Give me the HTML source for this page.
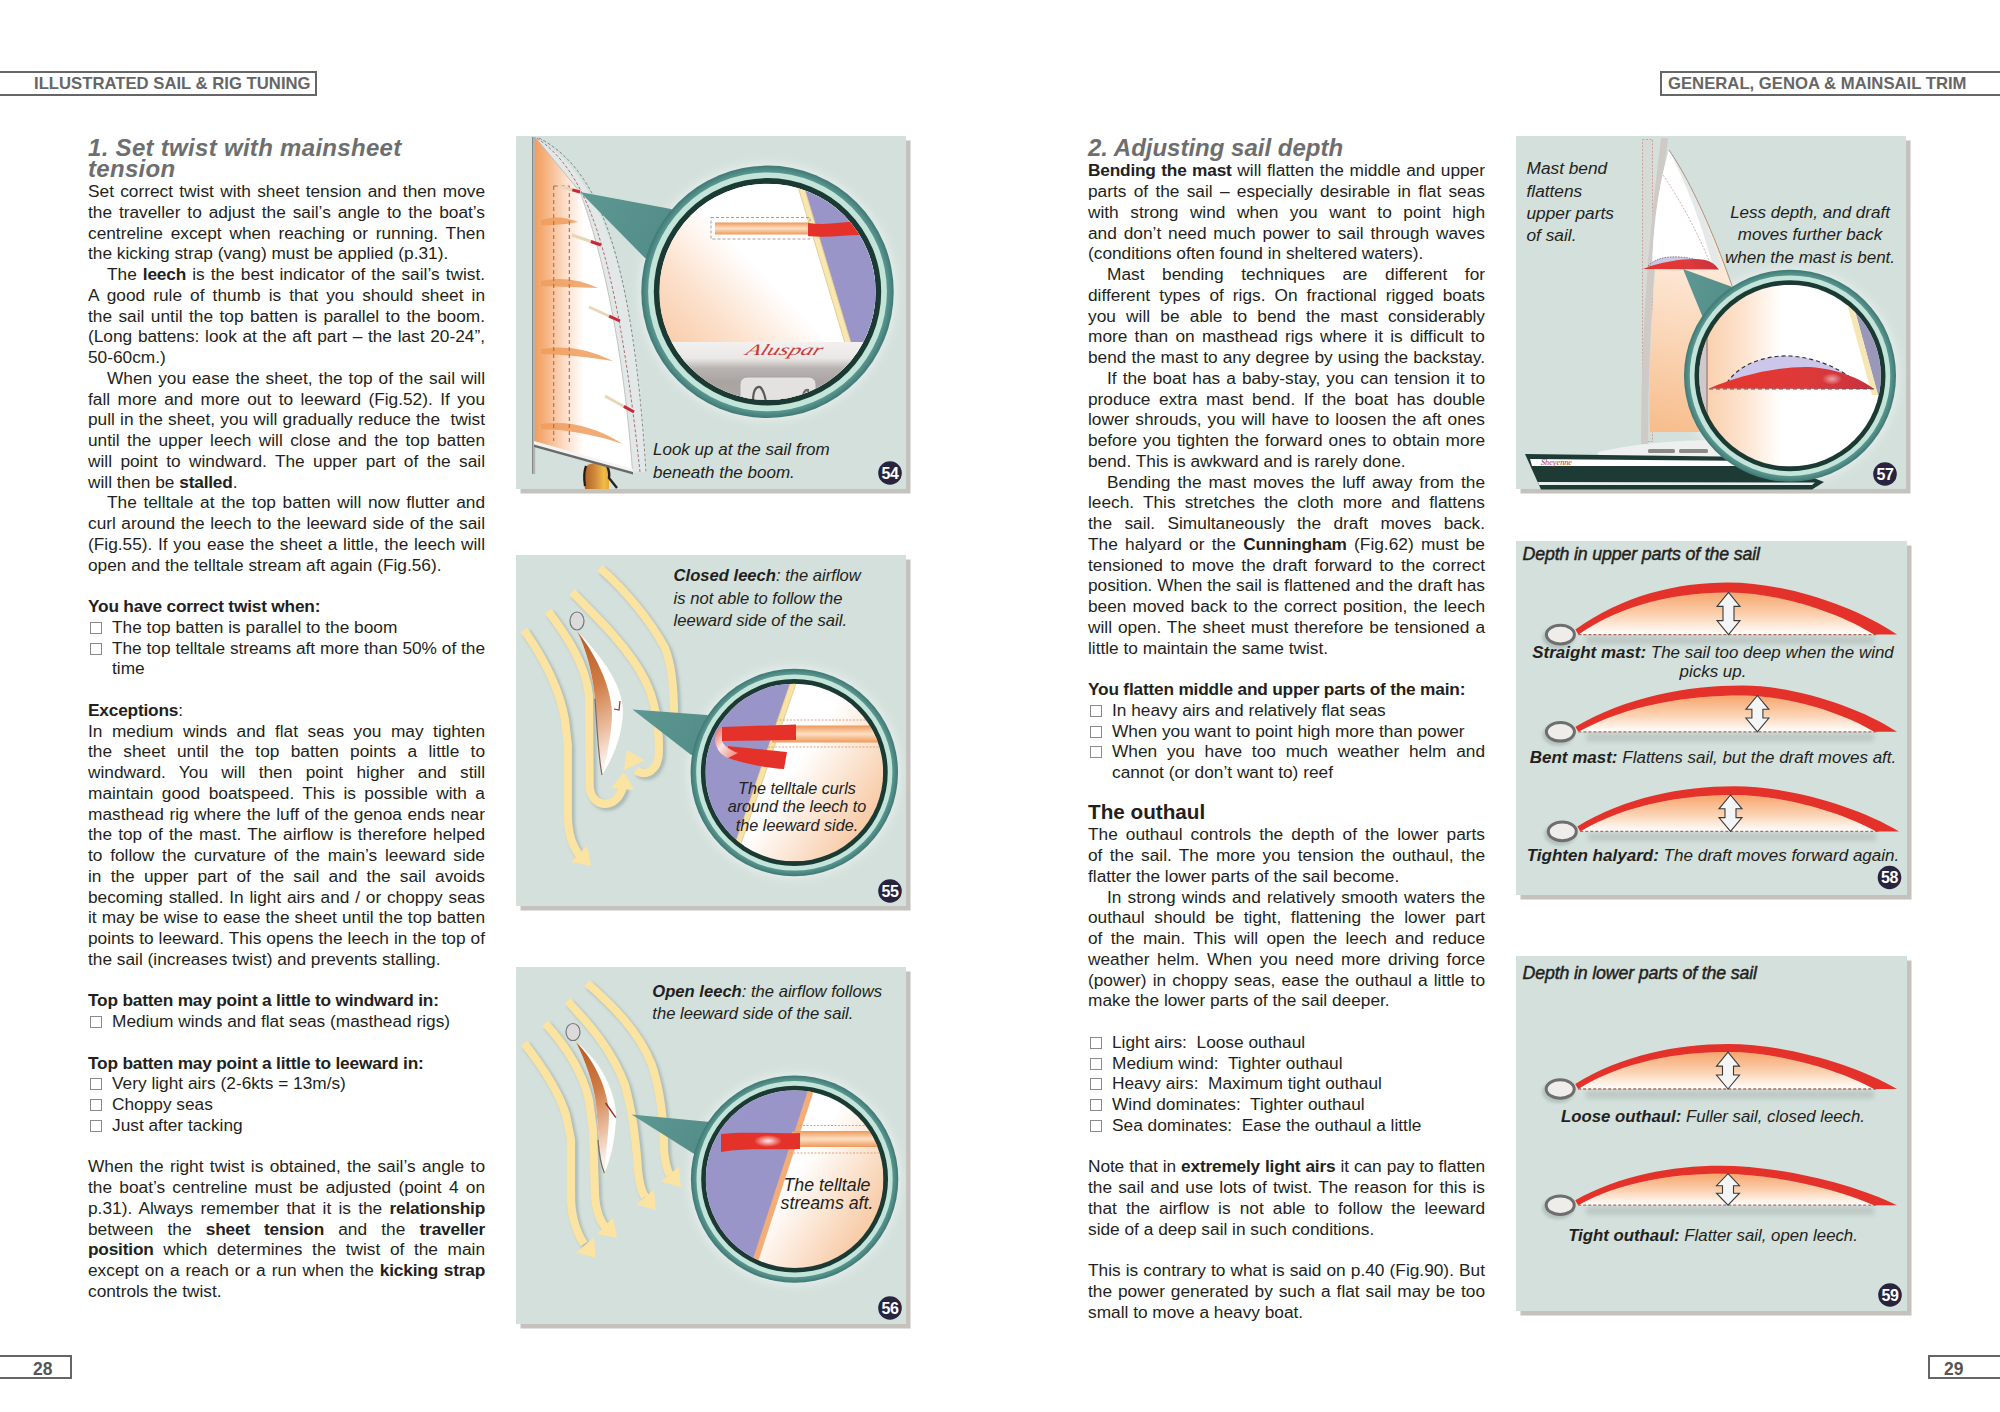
<!DOCTYPE html>
<html><head><meta charset="utf-8"><title>Illustrated Sail &amp; Rig Tuning 28-29</title>
<style>
*{margin:0;padding:0;box-sizing:border-box}
html,body{width:2000px;height:1412px;overflow:hidden;background:#fff}
body{position:relative;font-family:"Liberation Sans",sans-serif;color:#231f20}
.col{position:absolute;top:0;width:397px;height:1412px}
.ln{position:absolute;left:0;width:397px;height:20.75px;line-height:20.75px;font-size:17.3px;white-space:nowrap}
.ln b{font-weight:bold;letter-spacing:-0.2px}
.j{text-align:justify;text-align-last:justify}
.ind{padding-left:19px}
.ck{padding-left:24px}
.bx{position:absolute;left:1.5px;top:4.87px;width:12px;height:12px;border:1.3px solid #8a8a8a}
.h1{position:absolute;font:italic bold 24px/20.8px "Liberation Sans",sans-serif;color:#6d6e70;white-space:nowrap}
.h2{position:absolute;left:0;font:bold 20.7px/20.75px "Liberation Sans",sans-serif;color:#231f20;white-space:nowrap}
.hdr{position:absolute;border:2.4px solid #666;color:#666;font:bold 16.7px/20px "Liberation Sans",sans-serif;white-space:nowrap}
.pn{position:absolute;border:2.4px solid #666;color:#555;font:bold 17.5px/18px "Liberation Sans",sans-serif}
.figsvg{position:absolute;left:0;top:0}
.cap{position:absolute;font-style:italic;color:#231f20;white-space:nowrap}
.cap b{font-weight:bold}
</style></head><body>
<div class="hdr" style="left:-3px;top:70.5px;width:320px;height:25px;padding:1px 0 0 35px">ILLUSTRATED SAIL &amp; RIG TUNING</div>
<div class="hdr" style="left:1660px;top:70.5px;width:345px;height:25px;padding:1px 0 0 6px">GENERAL, GENOA &amp; MAINSAIL TRIM</div>
<div class="pn" style="left:-3px;top:1355px;width:75px;height:24px;padding:3px 0 0 34px">28</div>
<div class="pn" style="left:1928px;top:1355px;width:80px;height:24px;padding:3px 0 0 14px">29</div>
<div class="h1" style="left:88px;top:138px;letter-spacing:0.3px">1. Set twist with mainsheet<br>tension</div>
<div class="h1" style="left:1088px;top:138px">2. Adjusting sail depth</div>
<div class="col" style="left:88px"><div class="ln j" style="top:181.23px;">Set correct twist with sheet tension and then move</div>
<div class="ln j" style="top:201.98px;">the traveller to adjust the sail’s angle to the boat’s</div>
<div class="ln j" style="top:222.73px;">centreline except when reaching or running. Then</div>
<div class="ln" style="top:243.48px;">the kicking strap (vang) must be applied (p.31).</div>
<div class="ln j ind" style="top:264.23px;">The <b>leech</b> is the best indicator of the sail’s twist.</div>
<div class="ln j" style="top:284.98px;">A good rule of thumb is that you should sheet in</div>
<div class="ln j" style="top:305.73px;">the sail until the top batten is parallel to the boom.</div>
<div class="ln j" style="top:326.48px;">(Long battens: look at the aft part – the last 20-24”,</div>
<div class="ln" style="top:347.23px;">50-60cm.)</div>
<div class="ln j ind" style="top:367.98px;">When you ease the sheet, the top of the sail will</div>
<div class="ln j" style="top:388.73px;">fall more and more out to leeward (Fig.52). If you</div>
<div class="ln j" style="top:409.48px;">pull in the sheet, you will gradually reduce the&nbsp; twist</div>
<div class="ln j" style="top:430.23px;">until the upper leech will close and the top batten</div>
<div class="ln j" style="top:450.98px;">will point to windward. The upper part of the sail</div>
<div class="ln" style="top:471.73px;">will then be <b>stalled</b>.</div>
<div class="ln j ind" style="top:492.48px;">The telltale at the top batten will now flutter and</div>
<div class="ln j" style="top:513.23px;">curl around the leech to the leeward side of the sail</div>
<div class="ln j" style="top:533.98px;">(Fig.55). If you ease the sheet a little, the leech will</div>
<div class="ln" style="top:554.73px;">open and the telltale stream aft again (Fig.56).</div>
<div class="ln" style="top:596.23px;"><b>You have correct twist when:</b></div>
<div class="ln ck" style="top:616.98px;"><i class="bx"></i>The top batten is parallel to the boom</div>
<div class="ln ck j" style="top:637.73px;letter-spacing:-0.05px;"><i class="bx"></i>The top telltale streams aft more than 50% of the</div>
<div class="ln ck" style="top:658.48px;">time</div>
<div class="ln" style="top:699.98px;"><b>Exceptions</b>:</div>
<div class="ln j" style="top:720.73px;">In medium winds and flat seas you may tighten</div>
<div class="ln j" style="top:741.48px;">the sheet until the top batten points a little to</div>
<div class="ln j" style="top:762.23px;">windward. You will then point higher and still</div>
<div class="ln j" style="top:782.98px;">maintain good boatspeed. This is possible with a</div>
<div class="ln j" style="top:803.73px;">masthead rig where the luff of the genoa ends near</div>
<div class="ln j" style="top:824.48px;">the top of the mast. The airflow is therefore helped</div>
<div class="ln j" style="top:845.23px;">to follow the curvature of the main’s leeward side</div>
<div class="ln j" style="top:865.98px;">in the upper part of the sail and the sail avoids</div>
<div class="ln j" style="top:886.73px;">becoming stalled. In light airs and / or choppy seas</div>
<div class="ln j" style="top:907.48px;">it may be wise to ease the sheet until the top batten</div>
<div class="ln j" style="top:928.23px;">points to leeward. This opens the leech in the top of</div>
<div class="ln" style="top:948.98px;">the sail (increases twist) and prevents stalling.</div>
<div class="ln" style="top:990.48px;"><b>Top batten may point a little to windward in:</b></div>
<div class="ln ck" style="top:1011.23px;"><i class="bx"></i>Medium winds and flat seas (masthead rigs)</div>
<div class="ln" style="top:1052.73px;"><b>Top batten may point a little to leeward in:</b></div>
<div class="ln ck" style="top:1073.48px;"><i class="bx"></i>Very light airs (2-6kts = 13m/s)</div>
<div class="ln ck" style="top:1094.23px;"><i class="bx"></i>Choppy seas</div>
<div class="ln ck" style="top:1114.98px;"><i class="bx"></i>Just after tacking</div>
<div class="ln j" style="top:1156.48px;">When the right twist is obtained, the sail’s angle to</div>
<div class="ln j" style="top:1177.23px;">the boat’s centreline must be adjusted (point 4 on</div>
<div class="ln j" style="top:1197.98px;">p.31). Always remember that it is the <b>relationship</b></div>
<div class="ln j" style="top:1218.73px;">between the <b>sheet tension</b> and the <b>traveller</b></div>
<div class="ln j" style="top:1239.48px;"><b>position</b> which determines the twist of the main</div>
<div class="ln j" style="top:1260.23px;">except on a reach or a run when the <b>kicking strap</b></div>
<div class="ln" style="top:1280.98px;">controls the twist.</div></div>
<div class="col" style="left:1088px"><div class="ln j" style="top:160.48px;"><b>Bending the mast</b> will flatten the middle and upper</div>
<div class="ln j" style="top:181.23px;">parts of the sail – especially desirable in flat seas</div>
<div class="ln j" style="top:201.98px;">with strong wind when you want to point high</div>
<div class="ln j" style="top:222.73px;">and don’t need much power to sail through waves</div>
<div class="ln" style="top:243.48px;">(conditions often found in sheltered waters).</div>
<div class="ln j ind" style="top:264.23px;">Mast bending techniques are different for</div>
<div class="ln j" style="top:284.98px;">different types of rigs. On fractional rigged boats</div>
<div class="ln j" style="top:305.73px;">you will be able to bend the mast considerably</div>
<div class="ln j" style="top:326.48px;">more than on masthead rigs where it is difficult to</div>
<div class="ln j" style="top:347.23px;">bend the mast to any degree by using the backstay.</div>
<div class="ln j ind" style="top:367.98px;">If the boat has a baby-stay, you can tension it to</div>
<div class="ln j" style="top:388.73px;">produce extra mast bend. If the boat has double</div>
<div class="ln j" style="top:409.48px;">lower shrouds, you will have to loosen the aft ones</div>
<div class="ln j" style="top:430.23px;">before you tighten the forward ones to obtain more</div>
<div class="ln" style="top:450.98px;">bend. This is awkward and is rarely done.</div>
<div class="ln j ind" style="top:471.73px;">Bending the mast moves the luff away from the</div>
<div class="ln j" style="top:492.48px;">leech. This stretches the cloth more and flattens</div>
<div class="ln j" style="top:513.23px;">the sail. Simultaneously the draft moves back.</div>
<div class="ln j" style="top:533.98px;">The halyard or the <b>Cunningham</b> (Fig.62) must be</div>
<div class="ln j" style="top:554.73px;">tensioned to move the draft forward to the correct</div>
<div class="ln j" style="top:575.48px;">position. When the sail is flattened and the draft has</div>
<div class="ln j" style="top:596.23px;">been moved back to the correct position, the leech</div>
<div class="ln j" style="top:616.98px;">will open. The sheet must therefore be tensioned a</div>
<div class="ln" style="top:637.73px;">little to maintain the same twist.</div>
<div class="ln" style="top:679.23px;"><b>You flatten middle and upper parts of the main:</b></div>
<div class="ln ck" style="top:699.98px;"><i class="bx"></i>In heavy airs and relatively flat seas</div>
<div class="ln ck" style="top:720.73px;"><i class="bx"></i>When you want to point high more than power</div>
<div class="ln ck j" style="top:741.48px;"><i class="bx"></i>When you have too much weather helm and</div>
<div class="ln ck" style="top:762.23px;">cannot (or don’t want to) reef</div>
<div class="h2" style="top:802.23px">The outhaul</div>
<div class="ln j" style="top:824.48px;">The outhaul controls the depth of the lower parts</div>
<div class="ln j" style="top:845.23px;">of the sail. The more you tension the outhaul, the</div>
<div class="ln" style="top:865.98px;">flatter the lower parts of the sail become.</div>
<div class="ln j ind" style="top:886.73px;">In strong winds and relatively smooth waters the</div>
<div class="ln j" style="top:907.48px;">outhaul should be tight, flattening the lower part</div>
<div class="ln j" style="top:928.23px;">of the main. This will open the leech and reduce</div>
<div class="ln j" style="top:948.98px;">weather helm. When you need more driving force</div>
<div class="ln j" style="top:969.73px;">(power) in choppy seas, ease the outhaul a little to</div>
<div class="ln" style="top:990.48px;">make the lower parts of the sail deeper.</div>
<div class="ln ck" style="top:1031.98px;"><i class="bx"></i>Light airs:&nbsp; Loose outhaul</div>
<div class="ln ck" style="top:1052.73px;"><i class="bx"></i>Medium wind:&nbsp; Tighter outhaul</div>
<div class="ln ck" style="top:1073.48px;"><i class="bx"></i>Heavy airs:&nbsp; Maximum tight outhaul</div>
<div class="ln ck" style="top:1094.23px;"><i class="bx"></i>Wind dominates:&nbsp; Tighter outhaul</div>
<div class="ln ck" style="top:1114.98px;"><i class="bx"></i>Sea dominates:&nbsp; Ease the outhaul a little</div>
<div class="ln j" style="top:1156.48px;letter-spacing:-0.1px;">Note that in <b>extremely light airs</b> it can pay to flatten</div>
<div class="ln j" style="top:1177.23px;">the sail and use lots of twist. The reason for this is</div>
<div class="ln j" style="top:1197.98px;">that the airflow is not able to follow the leeward</div>
<div class="ln" style="top:1218.73px;">side of a deep sail in such conditions.</div>
<div class="ln j" style="top:1260.23px;">This is contrary to what is said on p.40 (Fig.90). But</div>
<div class="ln j" style="top:1280.98px;">the power generated by such a flat sail may be too</div>
<div class="ln" style="top:1301.73px;">small to move a heavy boat.</div></div>
<svg class="figsvg" width="2000" height="1412" viewBox="0 0 2000 1412"><defs>
<filter id="blur2" x="-20%" y="-20%" width="140%" height="140%"><feGaussianBlur stdDeviation="1.6"/></filter>
<filter id="blur3" x="-20%" y="-50%" width="140%" height="200%"><feGaussianBlur stdDeviation="2.5"/></filter>
<filter id="blur4" x="-20%" y="-20%" width="140%" height="140%"><feGaussianBlur stdDeviation="4"/></filter>
<radialGradient id="tealg" cx="0.5" cy="0.5" r="0.5"><stop offset="0.93" stop-color="#64a19b"/><stop offset="0.96" stop-color="#548f8a"/><stop offset="1" stop-color="#3f7975"/></radialGradient>
<linearGradient id="coneg" x1="0" y1="0" x2="1" y2="0.3"><stop offset="0" stop-color="#5e9893"/><stop offset="1" stop-color="#4a837f"/></linearGradient>
<linearGradient id="sail54" x1="535" y1="0" x2="600" y2="0" gradientUnits="userSpaceOnUse"><stop offset="0" stop-color="#f29e5e"/><stop offset="0.2" stop-color="#f6b787"/><stop offset="0.45" stop-color="#fcdcc6"/><stop offset="0.75" stop-color="#ffffff"/></linearGradient>
<linearGradient id="peachL" x1="0" y1="0" x2="1" y2="0"><stop offset="0" stop-color="#f9cca8"/><stop offset="0.25" stop-color="#fde4d0"/><stop offset="0.45" stop-color="#ffffff"/><stop offset="1" stop-color="#ffffff"/></linearGradient>
<linearGradient id="peach54" x1="0" y1="0.85" x2="0.62" y2="0.25"><stop offset="0" stop-color="#f8c59e"/><stop offset="0.4" stop-color="#fce0ca"/><stop offset="0.75" stop-color="#ffffff"/></linearGradient>
<linearGradient id="peachR" x1="0.1" y1="0" x2="1" y2="0.6"><stop offset="0" stop-color="#ffffff"/><stop offset="0.55" stop-color="#ffffff"/><stop offset="1" stop-color="#f8cdaa"/></linearGradient>
<linearGradient id="batten" x1="0" y1="0" x2="0" y2="1"><stop offset="0" stop-color="#ee9858"/><stop offset="0.5" stop-color="#fde0c4"/><stop offset="1" stop-color="#ee9858"/></linearGradient>
<linearGradient id="boomg" x1="0" y1="0" x2="0" y2="1"><stop offset="0" stop-color="#f2f1ef"/><stop offset="0.2" stop-color="#ebe9e7"/><stop offset="0.33" stop-color="#b9b3b1"/><stop offset="0.5" stop-color="#a9a3a1"/><stop offset="1" stop-color="#b3adab"/></linearGradient>
<linearGradient id="sailbrown" x1="0" y1="0" x2="0.15" y2="1"><stop offset="0" stop-color="#b65a22"/><stop offset="0.45" stop-color="#cf7c45"/><stop offset="0.8" stop-color="#ecc2a6"/><stop offset="1" stop-color="#fbefe8"/></linearGradient>
<linearGradient id="sail57" x1="1700" y1="270" x2="1660" y2="432" gradientUnits="userSpaceOnUse"><stop offset="0" stop-color="#fde8d6"/><stop offset="0.5" stop-color="#fad3b2"/><stop offset="1" stop-color="#f7bd8c"/></linearGradient>
<linearGradient id="redg" x1="0" y1="0" x2="1" y2="0"><stop offset="0" stop-color="#e8342c"/><stop offset="0.6" stop-color="#dd3a3a"/><stop offset="1" stop-color="#c83040"/></linearGradient>
<linearGradient id="twist" x1="0" y1="0" x2="1" y2="1"><stop offset="0" stop-color="#f05a4a"/><stop offset="0.45" stop-color="#fbe4e0"/><stop offset="1" stop-color="#f07a70"/></linearGradient>
<radialGradient id="gloss" cx="0.5" cy="0.5" r="0.5"><stop offset="0" stop-color="#ffffff" stop-opacity="0.9"/><stop offset="1" stop-color="#ffffff" stop-opacity="0"/></radialGradient>
</defs><rect x="520.5" y="140.5" width="390" height="353" fill="#c5c2bd"/><rect x="516" y="136" width="390" height="353" fill="#d3e0db"/><path d="M535,138 C590,165 635,250 647,472 L632,473 C622,330 598,240 580,192 Z" fill="#e3e9e9" opacity="0.85"/><path d="M535,137 L580,192 C598,240 622,330 632.5,471 L535,443 Z" fill="url(#sail54)"/><path d="M535,137 L580,192 C598,240 622,330 632.5,471" fill="none" stroke="#b9b6b2" stroke-width="0.8"/><path d="M541,220 Q559.5,214 578,222 Q559.5,226 541,225 Z" fill="#ef9c5c" opacity="0.85"/><path d="M541,281 Q569.5,275 598,288 Q569.5,287 541,286 Z" fill="#ef9c5c" opacity="0.85"/><path d="M541,349 Q577.0,343 613,361 Q577.0,355 541,354 Z" fill="#ef9c5c" opacity="0.85"/><path d="M541,424 Q582.0,418 623,444 Q582.0,430 541,429 Z" fill="#ef9c5c" opacity="0.85"/><path d="M553.7,186 V441 M569.3,186 V444 M553.7,186 H569.3" stroke="#b8674a" stroke-width="1.1" stroke-dasharray="4 3" fill="none"/><path d="M537,138 C585,172 615,240 640,472" stroke="#b07070" stroke-width="1" stroke-dasharray="3 2" fill="none"/><path d="M539,138 C597,168 632,250 646,472" stroke="#8a8a8a" stroke-width="1" stroke-dasharray="3 2" fill="none"/><line x1="558" y1="186" x2="580" y2="192" stroke="#e8d6b8" stroke-width="3"/><line x1="572.3" y1="189.9" x2="580" y2="192" stroke="#c8283a" stroke-width="3"/><line x1="572" y1="235" x2="601" y2="245" stroke="#e8d6b8" stroke-width="3"/><line x1="590.9" y1="241.5" x2="601" y2="245" stroke="#c8283a" stroke-width="3"/><line x1="589" y1="307" x2="620" y2="321" stroke="#e8d6b8" stroke-width="3"/><line x1="609.1" y1="316.1" x2="620" y2="321" stroke="#c8283a" stroke-width="3"/><line x1="605" y1="396" x2="634" y2="412" stroke="#e8d6b8" stroke-width="3"/><line x1="623.9" y1="406.4" x2="634" y2="412" stroke="#c8283a" stroke-width="3"/><defs><linearGradient id="headg" x1="0" y1="0" x2="1" y2="0"><stop offset="0" stop-color="#a8602a"/><stop offset="0.45" stop-color="#d08a3a"/><stop offset="0.8" stop-color="#f2bb48"/><stop offset="1" stop-color="#e8a838"/></linearGradient></defs><path d="M584,470 Q586,463 597,463 Q608,464 609,474 L609,489 L585,489 Q583,480 584,470 Z" fill="url(#headg)"/><path d="M586,466 Q583,474 585,486" stroke="#2a1a10" stroke-width="2.2" fill="none"/><path d="M607,466 Q610,472 609,478 L617,488" stroke="#2a2218" stroke-width="2.4" fill="none"/><rect x="532" y="137" width="3.2" height="337" fill="#b4b2b0"/><rect x="532" y="137" width="1" height="337" fill="#888"/><path d="M534,441 L633,469 L633,473.5 L534,446 Z" fill="#f4f4f2"/><path d="M534,444.5 L633,472 L633,474.5 L534,447 Z" fill="#6a6a6a"/><circle cx="767.5" cy="291.8" r="130.2" fill="#ffffff" opacity="0.35" filter="url(#blur4)"/><polygon points="580,192 671,209 767.5,291.8 645,258" fill="url(#coneg)"/><defs><clipPath id="c54"><circle cx="767.5" cy="291.8" r="108.1534"/></clipPath></defs><circle cx="767.5" cy="291.8" r="126.2" fill="url(#tealg)"/><circle cx="767.5" cy="291.8" r="119.3852" fill="#c3e5d9"/><circle cx="767.5" cy="291.8" r="113.70620000000001" fill="#1c3a34"/><g clip-path="url(#c54)"><rect x="659.3466" y="183.6466" width="216.3068" height="216.3068" fill="#fff"/><rect x="659.3466" y="183.6466" width="216.3068" height="216.3068" fill="url(#peach54)"/><polygon points="799,170 900,170 900,343 851,343" fill="#9a95c8"/><polygon points="793,170 799,170 851,343 845,343" fill="#f8e8b0" stroke="#d9c48a" stroke-width="0.8"/><rect x="711" y="217.5" width="99" height="21.5" fill="none" stroke="#a09090" stroke-width="0.9" stroke-dasharray="3 2"/><rect x="715" y="222.5" width="94" height="12" fill="url(#batten)"/><path d="M808,223 C828,226 845,221 862,222 L862,235 C845,235 828,238 808,236 Z" fill="#e4322b"/><rect x="659.3466" y="342" width="216.3068" height="80" fill="url(#boomg)"/><rect x="740" y="377" width="76" height="50" rx="7" fill="#e4e2e0" stroke="#a8a2a0"/><path d="M753,402 Q753,386 760,387 Q764,390 766,402" stroke="#5a5a5a" stroke-width="2.2" fill="none"/><path d="M802,402 Q803,389 808,390 L810,402" stroke="#6a6a6a" stroke-width="2.2" fill="none"/><text x="745" y="355.5" font-family="Liberation Serif" font-style="italic" font-size="16" fill="#d03838" textLength="76" lengthAdjust="spacingAndGlyphs" transform="skewX(-22) translate(143.4,0)">Aluspar</text></g><circle cx="890" cy="473" r="11.8" fill="#28243f"/><text x="890" y="478.8" text-anchor="middle" font-family="Liberation Sans" font-weight="bold" font-size="16" fill="#fff" letter-spacing="-0.5">54</text><rect x="520.5" y="559.5" width="390" height="351" fill="#c5c2bd"/><rect x="516" y="555" width="390" height="351" fill="#d3e0db"/><path d="M524,630 C545,660 560,690 565,720 L567.8,745 L567.8,815 C568,835 573,848 581,857" fill="none" stroke="#6f7f80" stroke-opacity="0.38" stroke-width="9" stroke-linecap="butt" filter="url(#blur2)" transform="translate(2.5,2.5)"/><path d="M524,630 C545,660 560,690 565,720 L567.8,745 L567.8,815 C568,835 573,848 581,857" fill="none" stroke="#fbe3a1" stroke-width="8.2" stroke-linecap="butt"/><polygon points="591.0,866.0 570.8,862.1 587.1,845.8" fill="#fbe3a1"/><path d="M548,611 C570,640 585,665 589,695 L589.6,785 C590,800 600,806 610,803 C618,800 622,792 623,786" fill="none" stroke="#6f7f80" stroke-opacity="0.38" stroke-width="9" stroke-linecap="butt" filter="url(#blur2)" transform="translate(2.5,2.5)"/><path d="M548,611 C570,640 585,665 589,695 L589.6,785 C590,800 600,806 610,803 C618,800 622,792 623,786" fill="none" stroke="#fbe3a1" stroke-width="8.2" stroke-linecap="butt"/><polygon points="624.0,772.0 634.0,789.9 611.1,787.9" fill="#fbe3a1"/><path d="M572,592 C600,620 630,650 645,680 C655,700 659,722 659,750 C659,770 646,778 636,770" fill="none" stroke="#6f7f80" stroke-opacity="0.38" stroke-width="9" stroke-linecap="butt" filter="url(#blur2)" transform="translate(2.5,2.5)"/><path d="M572,592 C600,620 630,650 645,680 C655,700 659,722 659,750 C659,770 646,778 636,770" fill="none" stroke="#fbe3a1" stroke-width="8.2" stroke-linecap="butt"/><polygon points="627.0,750.0 644.6,760.5 623.8,770.3" fill="#fbe3a1"/><path d="M600,568 C625,590 650,620 665,648 C672,665 674,690 674,716" fill="none" stroke="#6f7f80" stroke-opacity="0.38" stroke-width="9" stroke-linecap="butt" filter="url(#blur2)" transform="translate(2.5,2.5)"/><path d="M600,568 C625,590 650,620 665,648 C672,665 674,690 674,716" fill="none" stroke="#fbe3a1" stroke-width="8.2" stroke-linecap="butt"/><path d="M577,631 C586,648 593,675 595,699 C597,725 598,755 602,775 C612,760 622,738 623,712 C623,690 610,665 577,631 Z" fill="#ffffff"/><path d="M577,631 C586,648 593,675 595,699 C597,725 598,755 602,775 C606,760 612,735 612,712 C611,690 600,660 577,631 Z" fill="url(#sailbrown)"/><path d="M595,699 C597,725 598,755 602,775" fill="none" stroke="#7a6a60" stroke-width="1.2"/><ellipse cx="577" cy="621" rx="7" ry="9" fill="#dcdada" stroke="#777" stroke-width="1.2"/><path d="M620,701 L619,710 L614,709" stroke="#b02a2a" stroke-width="1.2" fill="none"/><circle cx="794.3" cy="772.5" r="107.7" fill="#ffffff" opacity="0.35" filter="url(#blur4)"/><polygon points="632.5,709.6 706.8,715 794.3,772.5 690.9,754.8" fill="url(#coneg)"/><defs><clipPath id="c55"><circle cx="794.3" cy="772.5" r="88.8709"/></clipPath></defs><circle cx="794.3" cy="772.5" r="103.7" fill="url(#tealg)"/><circle cx="794.3" cy="772.5" r="98.1002" fill="#c3e5d9"/><circle cx="794.3" cy="772.5" r="93.4337" fill="#1c3a34"/><g clip-path="url(#c55)"><rect x="705.4291" y="683.6291" width="177.7418" height="177.7418" fill="url(#peachR)"/><polygon points="705.4291,683.6291 790,683.6291 729,861.3709 705.4291,861.3709" fill="#9a95c8"/><polygon points="790,683.6291 796,683.6291 735,861.3709 729,861.3709" fill="#f8e3a4" stroke="#d8c088" stroke-width="0.7"/><line x1="776" y1="720" x2="890" y2="720" stroke="#e0a080" stroke-width="1" stroke-dasharray="2 1.5"/><line x1="768" y1="747" x2="890" y2="747" stroke="#e0a080" stroke-width="1" stroke-dasharray="2 1.5"/><rect x="772" y="725.5" width="120" height="17" fill="url(#batten)"/><path d="M728,746 C745,748 770,750 787,752 L784,769 C765,768 742,763 728,758 Z" fill="#e4322b"/><path d="M722,727 C711,731 713,752 728,758 L738,753 C727,749 723,744 722,741 Z" fill="url(#twist)"/><path d="M722,727 L796,724.5 L796,740 L722,741 Z" fill="#e4322b"/></g><circle cx="890" cy="891" r="11.8" fill="#28243f"/><text x="890" y="896.8" text-anchor="middle" font-family="Liberation Sans" font-weight="bold" font-size="16" fill="#fff" letter-spacing="-0.5">55</text><rect x="520.5" y="971.5" width="390" height="357" fill="#c5c2bd"/><rect x="516" y="967" width="390" height="357" fill="#d3e0db"/><path d="M524,1043 C545,1070 560,1095 566,1115 L571,1140 L571,1196 C571,1215 575,1230 584,1244" fill="none" stroke="#6f7f80" stroke-opacity="0.38" stroke-width="9" stroke-linecap="butt" filter="url(#blur2)" transform="translate(2.5,2.5)"/><path d="M524,1043 C545,1070 560,1095 566,1115 L571,1140 L571,1196 C571,1215 575,1230 584,1244" fill="none" stroke="#fbe3a1" stroke-width="8.2" stroke-linecap="butt"/><polygon points="596.0,1258.0 576.3,1252.4 593.9,1237.6" fill="#fbe3a1"/><path d="M545,1023 C565,1045 582,1070 589,1100 L593,1130 L595,1196 C596,1212 600,1222 607,1229" fill="none" stroke="#6f7f80" stroke-opacity="0.38" stroke-width="9" stroke-linecap="butt" filter="url(#blur2)" transform="translate(2.5,2.5)"/><path d="M545,1023 C565,1045 582,1070 589,1100 L593,1130 L595,1196 C596,1212 600,1222 607,1229" fill="none" stroke="#fbe3a1" stroke-width="8.2" stroke-linecap="butt"/><polygon points="617.0,1238.0 596.8,1234.1 613.1,1217.8" fill="#fbe3a1"/><path d="M567.5,1001 C590,1025 612,1050 625,1085 C632,1110 636,1140 638,1170 C639,1182 641,1190 645,1197" fill="none" stroke="#6f7f80" stroke-opacity="0.38" stroke-width="9" stroke-linecap="butt" filter="url(#blur2)" transform="translate(2.5,2.5)"/><path d="M567.5,1001 C590,1025 612,1050 625,1085 C632,1110 636,1140 638,1170 C639,1182 641,1190 645,1197" fill="none" stroke="#fbe3a1" stroke-width="8.2" stroke-linecap="butt"/><polygon points="656.0,1210.0 636.3,1204.4 653.9,1189.6" fill="#fbe3a1"/><path d="M587,983 C612,1005 638,1030 652,1065 C660,1090 664,1120 664,1150 C665,1162 667,1170 670,1175" fill="none" stroke="#6f7f80" stroke-opacity="0.38" stroke-width="9" stroke-linecap="butt" filter="url(#blur2)" transform="translate(2.5,2.5)"/><path d="M587,983 C612,1005 638,1030 652,1065 C660,1090 664,1120 664,1150 C665,1162 667,1170 670,1175" fill="none" stroke="#fbe3a1" stroke-width="8.2" stroke-linecap="butt"/><polygon points="681.0,1187.0 661.3,1181.4 678.9,1166.6" fill="#fbe3a1"/><path d="M576,1042 C585,1060 594,1085 596,1104 C598,1130 600,1155 604.4,1173 C611,1160 616,1135 616,1114 C615,1092 602,1062 576,1042 Z" fill="#ffffff"/><path d="M576,1042 C585,1060 594,1085 596,1104 C598,1130 600,1155 604.4,1173 C606,1150 609,1130 609,1114 C608,1092 597,1063 576,1042 Z" fill="url(#sailbrown)"/><path d="M598,1140 C599,1155 601,1165 604.4,1173" fill="none" stroke="#7a6a60" stroke-width="1.2"/><ellipse cx="573" cy="1032" rx="7" ry="8.5" fill="#dcdada" stroke="#777" stroke-width="1.2"/><line x1="605.6" y1="1103" x2="615.8" y2="1117.6" stroke="#9a2a2a" stroke-width="1.4"/><circle cx="794.6" cy="1179.1" r="107.7" fill="#ffffff" opacity="0.35" filter="url(#blur4)"/><polygon points="631.6,1114.6 710,1122 794.6,1179.1 699,1157" fill="url(#coneg)"/><defs><clipPath id="c56"><circle cx="794.6" cy="1179.1" r="88.8709"/></clipPath></defs><circle cx="794.6" cy="1179.1" r="103.7" fill="url(#tealg)"/><circle cx="794.6" cy="1179.1" r="98.1002" fill="#c3e5d9"/><circle cx="794.6" cy="1179.1" r="93.4337" fill="#1c3a34"/><g clip-path="url(#c56)"><rect x="705.7291" y="1090.2291" width="177.7418" height="177.7418" fill="url(#peachR)"/><polygon points="705.7291,1090.2291 810,1090.2291 752,1267.9708999999998 705.7291,1267.9708999999998" fill="#9a95c8"/><polygon points="808,1090.2291 814,1090.2291 756,1267.9708999999998 750,1267.9708999999998" fill="#f4ad76"/><line x1="796" y1="1125.5" x2="890" y2="1125.5" stroke="#e0a080" stroke-width="1" stroke-dasharray="2 1.5"/><line x1="790" y1="1153" x2="890" y2="1153" stroke="#e0a080" stroke-width="1" stroke-dasharray="2 1.5"/><rect x="792" y="1131" width="100" height="16" fill="url(#batten)"/><path d="M721,1134 C745,1131 770,1134 800,1133 L800,1149 C770,1150 745,1148 721,1152 Z" fill="#e4322b"/><ellipse cx="768" cy="1141" rx="14" ry="6" fill="url(#gloss)"/></g><circle cx="890" cy="1308" r="11.8" fill="#28243f"/><text x="890" y="1313.8" text-anchor="middle" font-family="Liberation Sans" font-weight="bold" font-size="16" fill="#fff" letter-spacing="-0.5">56</text><rect x="1520.5" y="140.5" width="390" height="353" fill="#c5c2bd"/><rect x="1516" y="136" width="390" height="353" fill="#d3e0db"/><circle cx="1790" cy="375.7" r="110" fill="#ffffff" opacity="0.35" filter="url(#blur4)"/><rect x="1642.5" y="139.5" width="10" height="302" fill="#d9d6d2" fill-opacity="0.5" stroke="#d09a9a" stroke-width="0.9" stroke-dasharray="2 1.5"/><path d="M1661,138 Q1641,290 1641,444 L1648,444 Q1648,290 1668,138 Z" fill="#cfcac6"/><path d="M1669,150 C1700,195 1740,290 1775,432 L1650,432 Q1647,300 1669,150 Z" fill="url(#sail57)"/><path d="M1669,150 C1690,182 1708,222 1722,268 L1652,268 Q1654,200 1669,150 Z" fill="#e3e9e9"/><path d="M1669,150 C1680,172 1700,215 1713,268 L1652,268 Q1654,200 1669,150 Z" fill="#ffffff"/><path d="M1669,150 C1700,195 1740,290 1775,432" fill="none" stroke="#a08a7a" stroke-width="0.9"/><path d="M1663,175 C1690,215 1705,250 1712,268" fill="none" stroke="#c89a9a" stroke-width="0.8" stroke-dasharray="2 1.5"/><path d="M1648,266 C1655,259 1665,256 1680,257 C1695,258 1705,262 1712,268 Z" fill="#cdc7e6" stroke="#556" stroke-width="0.7" stroke-dasharray="1.5 1.2"/><path d="M1643,269 C1660,262 1680,259 1695,259 C1708,259 1714,263 1719,269.5 Z" fill="url(#redg)"/><path d="M1598,452 Q1650,440 1720,440 L1830,445 L1830,458 L1598,458 Z" fill="#eef0ef"/><rect x="1648" y="449" width="27" height="4" rx="1.5" fill="#8c8a88"/><rect x="1679" y="449" width="29" height="4" rx="1.5" fill="#8c8a88"/><path d="M1525,454 L1760,457 L1824,482 L1812,489.5 L1541,489.5 Z" fill="#1e3a34"/><path d="M1530,459 L1760,461 L1775,466 L1532,466 Z" fill="#ffffff"/><path d="M1538,482 L1815,482.5 L1812,485 L1539,485 Z" fill="#e8eeee"/><text x="1541" y="465" font-family="Liberation Serif" font-style="italic" font-size="8.5" fill="#c03030" textLength="31" lengthAdjust="spacingAndGlyphs">Sheyenne</text><polygon points="1683,269 1731,286.5 1790,375.7 1705.5,324" fill="url(#coneg)"/><defs><clipPath id="c57"><circle cx="1790" cy="375.7" r="90.842"/></clipPath></defs><circle cx="1790" cy="375.7" r="106" fill="url(#tealg)"/><circle cx="1790" cy="375.7" r="100.276" fill="#c3e5d9"/><circle cx="1790" cy="375.7" r="95.506" fill="#1c3a34"/><g clip-path="url(#c57)"><rect x="1699.158" y="284.858" width="181.684" height="181.684" fill="url(#peachL)"/><rect x="1695" y="280" width="11.5" height="190" fill="#cfc8cc"/><line x1="1707" y1="280" x2="1707" y2="470" stroke="#8a7a70" stroke-width="1.2"/><polygon points="1852,300 1890,300 1890,395 1878,395" fill="#9a98b8"/><polygon points="1846,300 1852,300 1878,395 1872,395" fill="#f6e6b4"/><path d="M1727,383 C1740,362 1770,355 1790,356 C1820,358 1848,372 1862,388 Z" fill="#ccc6ea" stroke="#333" stroke-width="1.2" stroke-dasharray="4 3"/><path d="M1709,388.5 C1740,375 1780,366 1810,367 C1840,369 1862,380 1874,389 Z" fill="url(#redg)"/><ellipse cx="1832" cy="379" rx="10" ry="6" fill="url(#gloss)" opacity="0.6"/><line x1="1709" y1="389" x2="1874" y2="389" stroke="#555" stroke-width="1" stroke-dasharray="4 3"/></g><circle cx="1885" cy="474" r="11.8" fill="#28243f"/><text x="1885" y="479.8" text-anchor="middle" font-family="Liberation Sans" font-weight="bold" font-size="16" fill="#fff" letter-spacing="-0.5">57</text><rect x="1520.5" y="545.5" width="391" height="354" fill="#c5c2bd"/><rect x="1516" y="541" width="391" height="354" fill="#d3e0db"/><defs><linearGradient id="p1" x1="0" y1="592.4" x2="0" y2="634.6" gradientUnits="userSpaceOnUse"><stop offset="0" stop-color="#f7a56c"/><stop offset="0.55" stop-color="#fbd3b3"/><stop offset="1" stop-color="#ffffff"/></linearGradient></defs><rect x="1586.4" y="636.1" width="287.5999999999999" height="8" fill="#8a8f90" opacity="0.3" filter="url(#blur3)"/><ellipse cx="1558.4" cy="637.6" rx="16" ry="11" fill="#708080" opacity="0.3" filter="url(#blur2)"/><path d="M1578.4,634.6 C1623.3,603.0 1678.6,592.4 1728.0,592.4 C1776.2,592.4 1837.5,611.4 1874.0,634.6 Z" fill="url(#p1)"/><line x1="1578.4" y1="634.6" x2="1877" y2="634.6" stroke="#b06a5a" stroke-width="1.3" stroke-dasharray="3 2"/><path d="M1575.4,629.6 C1621.6,595.5 1677.6,582.4 1728.0,582.4 C1783.8,582.4 1855.2,605.9 1897.0,634.6 L1874.0,634.6 C1837.5,611.4 1776.2,592.4 1728.0,592.4 C1678.6,592.4 1623.3,603.0 1578.4,634.6 Z" fill="#e4322b"/><ellipse cx="1560.4" cy="634.6" rx="14" ry="9.3" fill="#efedea" stroke="#6e6e6e" stroke-width="3"/><polygon points="1728.5,592.4 1740.0,606.4 1734.0,606.4 1734.0,620.6 1740.0,620.6 1728.5,634.6 1717.0,620.6 1723.0,620.6 1723.0,606.4 1717.0,606.4" fill="#f3f5f7" stroke="#3a3a3a" stroke-width="1.1" stroke-linejoin="miter"/><defs><linearGradient id="p2" x1="0" y1="695.5" x2="0" y2="731.8" gradientUnits="userSpaceOnUse"><stop offset="0" stop-color="#f7a56c"/><stop offset="0.55" stop-color="#fbd3b3"/><stop offset="1" stop-color="#ffffff"/></linearGradient></defs><rect x="1586.4" y="733.3" width="287.5999999999999" height="8" fill="#8a8f90" opacity="0.3" filter="url(#blur3)"/><ellipse cx="1558.4" cy="734.8" rx="16" ry="11" fill="#708080" opacity="0.3" filter="url(#blur2)"/><path d="M1578.4,731.8 C1627.5,704.6 1688.0,695.5 1742.0,695.5 C1785.6,695.5 1841.0,711.8 1874.0,731.8 Z" fill="url(#p2)"/><line x1="1578.4" y1="731.8" x2="1877" y2="731.8" stroke="#b06a5a" stroke-width="1.3" stroke-dasharray="3 2"/><path d="M1575.4,726.8 C1625.8,697.1 1687.0,685.5 1742.0,685.5 C1793.2,685.5 1858.6,706.3 1897.0,731.8 L1874.0,731.8 C1841.0,711.8 1785.6,695.5 1742.0,695.5 C1688.0,695.5 1627.5,704.6 1578.4,731.8 Z" fill="#e4322b"/><ellipse cx="1560.4" cy="731.8" rx="14" ry="9.3" fill="#efedea" stroke="#6e6e6e" stroke-width="3"/><polygon points="1757.4,695.5 1768.9,709.3 1762.9,709.3 1762.9,718.0 1768.9,718.0 1757.4,731.8 1745.9,718.0 1751.9,718.0 1751.9,709.3 1745.9,709.3" fill="#f3f5f7" stroke="#3a3a3a" stroke-width="1.1" stroke-linejoin="miter"/><defs><linearGradient id="p3" x1="0" y1="795.0" x2="0" y2="831.4" gradientUnits="userSpaceOnUse"><stop offset="0" stop-color="#f7a56c"/><stop offset="0.55" stop-color="#fbd3b3"/><stop offset="1" stop-color="#ffffff"/></linearGradient></defs><rect x="1588.3" y="832.9" width="287.70000000000005" height="8" fill="#8a8f90" opacity="0.3" filter="url(#blur3)"/><ellipse cx="1560.3" cy="834.4" rx="16" ry="11" fill="#708080" opacity="0.3" filter="url(#blur2)"/><path d="M1580.3,831.4 C1626.4,804.1 1683.3,795.0 1734.0,795.0 C1780.9,795.0 1840.5,811.4 1876.0,831.4 Z" fill="url(#p3)"/><line x1="1580.3" y1="831.4" x2="1879" y2="831.4" stroke="#b06a5a" stroke-width="1.3" stroke-dasharray="3 2"/><path d="M1577.3,826.4 C1624.7,797.5 1682.3,786.2 1734.0,786.2 C1788.5,786.2 1858.2,806.5 1899.0,831.4 L1876.0,831.4 C1840.5,811.4 1780.9,795.0 1734.0,795.0 C1683.3,795.0 1626.4,804.1 1580.3,831.4 Z" fill="#e4322b"/><ellipse cx="1562.3" cy="831.4" rx="14" ry="9.3" fill="#efedea" stroke="#6e6e6e" stroke-width="3"/><polygon points="1730.5,795.0 1742.0,808.8 1736.0,808.8 1736.0,817.6 1742.0,817.6 1730.5,831.4 1719.0,817.6 1725.0,817.6 1725.0,808.8 1719.0,808.8" fill="#f3f5f7" stroke="#3a3a3a" stroke-width="1.1" stroke-linejoin="miter"/><circle cx="1889.5" cy="877.5" r="11.8" fill="#28243f"/><text x="1889.5" y="883.3" text-anchor="middle" font-family="Liberation Sans" font-weight="bold" font-size="16" fill="#fff" letter-spacing="-0.5">58</text><rect x="1520.5" y="960.5" width="391" height="355" fill="#c5c2bd"/><rect x="1516" y="956" width="391" height="355" fill="#d3e0db"/><defs><linearGradient id="p4" x1="0" y1="1052.1" x2="0" y2="1089" gradientUnits="userSpaceOnUse"><stop offset="0" stop-color="#f7a56c"/><stop offset="0.55" stop-color="#fbd3b3"/><stop offset="1" stop-color="#ffffff"/></linearGradient></defs><rect x="1586.2" y="1090.5" width="287.79999999999995" height="8" fill="#8a8f90" opacity="0.3" filter="url(#blur3)"/><ellipse cx="1558.2" cy="1092" rx="16" ry="11" fill="#708080" opacity="0.3" filter="url(#blur2)"/><path d="M1578.2,1089.0 C1623.1,1061.3 1678.6,1052.1 1728.0,1052.1 C1776.2,1052.1 1837.5,1068.7 1874.0,1089.0 Z" fill="url(#p4)"/><line x1="1578.2" y1="1089" x2="1877" y2="1089" stroke="#b06a5a" stroke-width="1.3" stroke-dasharray="3 2"/><path d="M1575.2,1084.0 C1621.4,1055.2 1677.6,1044.0 1728.0,1044.0 C1783.8,1044.0 1855.2,1064.2 1897.0,1089.0 L1874.0,1089.0 C1837.5,1068.7 1776.2,1052.1 1728.0,1052.1 C1678.6,1052.1 1623.1,1061.3 1578.2,1089.0 Z" fill="#e4322b"/><ellipse cx="1560.2" cy="1089" rx="14" ry="9.3" fill="#efedea" stroke="#6e6e6e" stroke-width="3"/><polygon points="1728.0,1052.1 1739.5,1066.1 1733.5,1066.1 1733.5,1075.0 1739.5,1075.0 1728.0,1089.0 1716.5,1075.0 1722.5,1075.0 1722.5,1066.1 1716.5,1066.1" fill="#f3f5f7" stroke="#3a3a3a" stroke-width="1.1" stroke-linejoin="miter"/><defs><linearGradient id="p5" x1="0" y1="1173.7" x2="0" y2="1205.2" gradientUnits="userSpaceOnUse"><stop offset="0" stop-color="#f7a56c"/><stop offset="0.55" stop-color="#fbd3b3"/><stop offset="1" stop-color="#ffffff"/></linearGradient></defs><rect x="1586.2" y="1206.7" width="287.79999999999995" height="8" fill="#8a8f90" opacity="0.3" filter="url(#blur3)"/><ellipse cx="1558.2" cy="1208.2" rx="16" ry="11" fill="#708080" opacity="0.3" filter="url(#blur2)"/><path d="M1578.2,1205.2 C1620.7,1181.6 1673.2,1173.7 1720.0,1173.7 C1770.8,1173.7 1835.5,1187.9 1874.0,1205.2 Z" fill="url(#p5)"/><line x1="1578.2" y1="1205.2" x2="1877" y2="1205.2" stroke="#b06a5a" stroke-width="1.3" stroke-dasharray="3 2"/><path d="M1575.2,1200.2 C1619.0,1175.6 1672.2,1165.7 1720.0,1165.7 C1778.4,1165.7 1853.2,1183.5 1897.0,1205.2 L1874.0,1205.2 C1835.5,1187.9 1770.8,1173.7 1720.0,1173.7 C1673.2,1173.7 1620.7,1181.6 1578.2,1205.2 Z" fill="#e4322b"/><ellipse cx="1560.2" cy="1205.2" rx="14" ry="9.3" fill="#efedea" stroke="#6e6e6e" stroke-width="3"/><polygon points="1728.0,1173.7 1739.5,1185.7 1733.5,1185.7 1733.5,1193.2 1739.5,1193.2 1728.0,1205.2 1716.5,1193.2 1722.5,1193.2 1722.5,1185.7 1716.5,1185.7" fill="#f3f5f7" stroke="#3a3a3a" stroke-width="1.1" stroke-linejoin="miter"/><circle cx="1890" cy="1295" r="11.8" fill="#28243f"/><text x="1890" y="1300.8" text-anchor="middle" font-family="Liberation Sans" font-weight="bold" font-size="16" fill="#fff" letter-spacing="-0.5">59</text></svg>
<div class="cap" style="left:653px;top:438.9px;font-size:17px;line-height:22.80px;text-align:left;">Look up at the sail from<br>beneath the boom.</div>
<div class="cap" style="left:673.6px;top:565.2px;font-size:16.6px;line-height:22.60px;text-align:left;"><b>Closed leech</b>: the airflow<br>is not able to follow the<br>leeward side of the sail.</div>
<div class="cap" style="left:717px;top:779.2px;font-size:16.2px;line-height:18.30px;text-align:center;width:160px;">The telltale curls<br>around the leech to<br>the leeward side.</div>
<div class="cap" style="left:652.3px;top:980.5px;font-size:16.6px;line-height:22.20px;text-align:left;"><b>Open leech</b>: the airflow follows<br>the leeward side of the sail.</div>
<div class="cap" style="left:757px;top:1177.3px;font-size:17.8px;line-height:17.70px;text-align:center;width:140px;">The telltale<br>streams aft.</div>
<div class="cap" style="left:1526.5px;top:157.3px;font-size:17.3px;line-height:22.20px;text-align:left;">Mast bend<br>flattens<br>upper parts<br>of sail.</div>
<div class="cap" style="left:1710px;top:202.4px;font-size:17px;line-height:22.10px;text-align:center;width:200px;">Less depth, and draft<br>moves further back<br>when the mast is bent.</div>
<div class="cap" style="left:1522.5px;top:544.1px;font-size:17.8px;line-height:20px;letter-spacing:-0.15px"><span style="font-style:italic;-webkit-text-stroke:0.45px #231f20">Depth in upper parts of the sail</span></div>
<div class="cap" style="left:1512px;top:644.0px;font-size:16.95px;line-height:18.90px;text-align:center;width:402px;"><b>Straight mast:</b> The sail too deep when the wind<br>picks up.</div>
<div class="cap" style="left:1512px;top:747.8px;font-size:17.0px;line-height:19.55px;text-align:center;width:402px;"><b>Bent mast:</b> Flattens sail, but the draft moves aft.</div>
<div class="cap" style="left:1512px;top:846.3px;font-size:17.05px;line-height:19.61px;text-align:center;width:402px;"><b>Tighten halyard:</b> The draft moves forward again.</div>
<div class="cap" style="left:1522.5px;top:963.2px;font-size:17.8px;line-height:20px;letter-spacing:-0.15px"><span style="font-style:italic;-webkit-text-stroke:0.45px #231f20">Depth in lower parts of the sail</span></div>
<div class="cap" style="left:1512px;top:1107.3px;font-size:16.8px;line-height:19.32px;text-align:center;width:402px;"><b>Loose outhaul:</b> Fuller sail, closed leech.</div>
<div class="cap" style="left:1512px;top:1225.7px;font-size:16.8px;line-height:19.32px;text-align:center;width:402px;"><b>Tight outhaul:</b> Flatter sail, open leech.</div>
</body></html>
